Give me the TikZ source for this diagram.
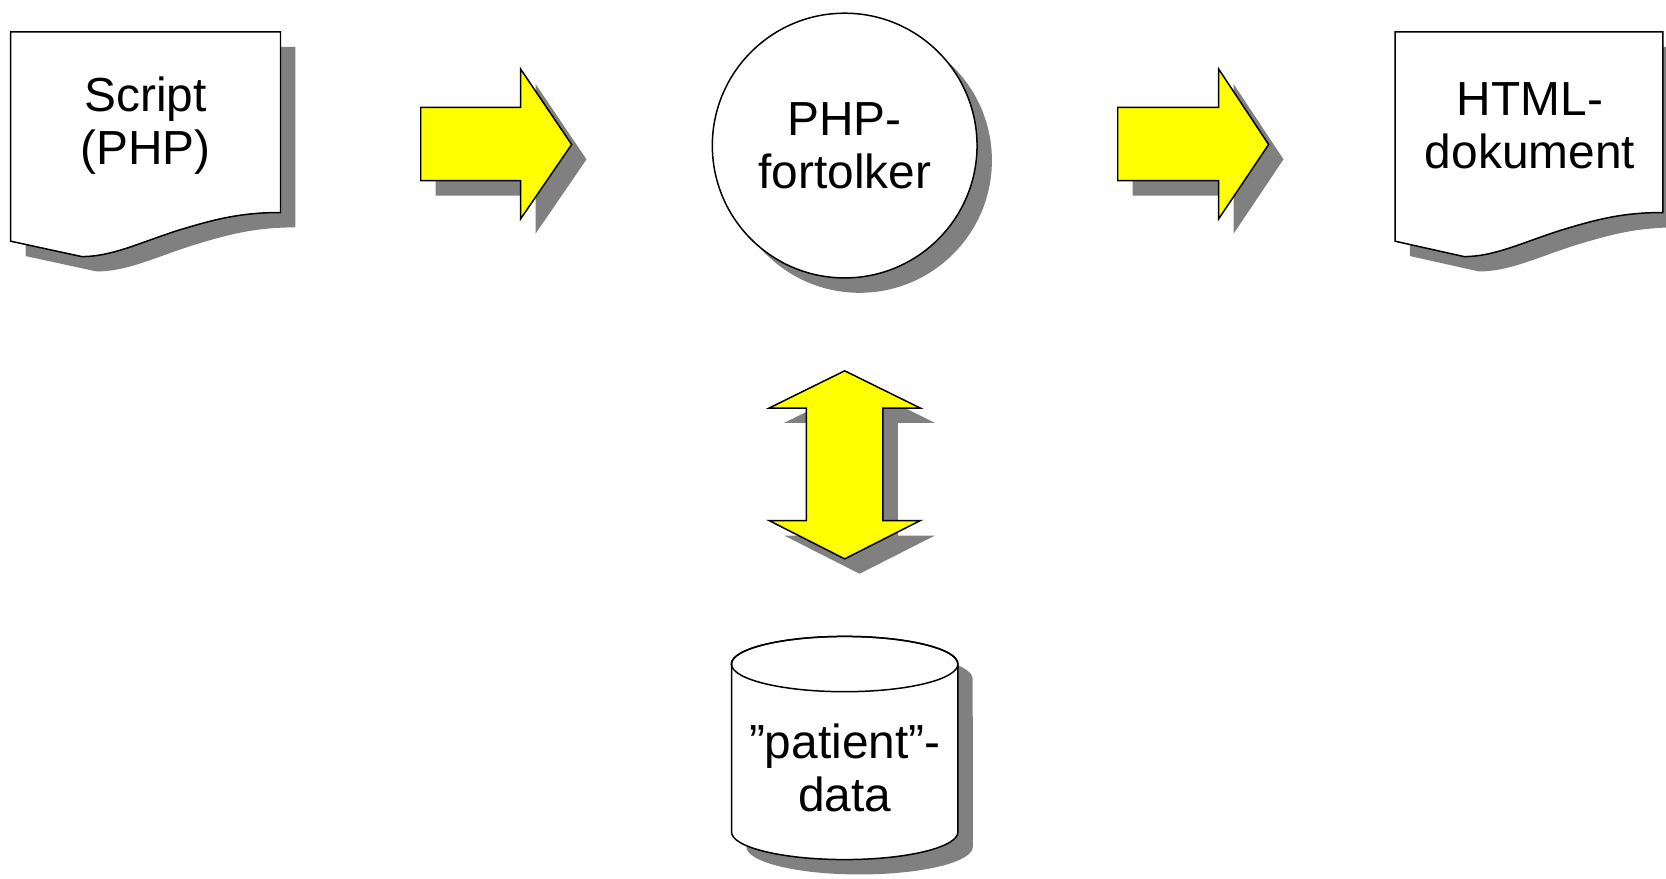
\documentclass[tikz,border=0pt]{standalone}
\usepackage{fontspec}
\setmainfont{Liberation Sans}
\definecolor{shadowgray}{HTML}{808080}
\definecolor{arrowyellow}{HTML}{FFFF00}
\begin{document}
\begin{tikzpicture}[x=0.01cm,y=-0.01cm,line width=0.4pt,
  shadowfill/.style={fill=shadowgray,draw=none},
  shapeline/.style={draw=black,fill=white},
  blockarrow/.style={draw=black,fill=arrowyellow},
  lbl/.style={align=center,inner sep=0pt,font=\fontsize{12.8}{14.2}\selectfont}]
\useasboundingbox (0,0) rectangle (1568,827);

% Script document
\fill[shadowfill] (24,44) -- (278,44) -- (278,214) .. controls (239,214) and (214,221) .. (181,231) .. controls (144,243) and (119,255.5) .. (91,255.5) -- (24,241) -- cycle;
\path[shapeline] (10,30) -- (264,30) -- (264,200) .. controls (225,200) and (200,207) .. (167,217) .. controls (130,229) and (105,241.5) .. (77,241.5) -- (10,227) -- cycle;
\node[lbl] (script) at (137,118) {Script\\(PHP)};

% Arrow 1
\fill[shadowfill] (410,115) -- (504,115) -- (504,79) -- (552,150) -- (504,220) -- (504,184) -- (410,184) -- cycle;
\path[blockarrow] (396,101) -- (490,101) -- (490,65) -- (538,136) -- (490,206) -- (490,170) -- (396,170) -- cycle;

% PHP interpreter circle
\fill[shadowfill] (809,151) circle[radius=1.245cm];
\path[shapeline] (795,137) circle[radius=1.245cm];
\node[lbl] (php) at (795,137) {PHP-\\fortolker};

% Arrow 2
\fill[shadowfill] (1066,115) -- (1161,115) -- (1161,79) -- (1208,150) -- (1161,220) -- (1161,184) -- (1066,184) -- cycle;
\path[blockarrow] (1052,101) -- (1147,101) -- (1147,65) -- (1194,136) -- (1147,206) -- (1147,170) -- (1052,170) -- cycle;

% HTML document
\fill[shadowfill] (1327,44) -- (1579,44) -- (1579,214) .. controls (1540,214) and (1515,221) .. (1482,231) .. controls (1445,243) and (1420,255.5) .. (1392,255.5) -- (1327,241) -- cycle;
\path[shapeline] (1313,30) -- (1565,30) -- (1565,200) .. controls (1526,200) and (1501,207) .. (1468,217) .. controls (1431,229) and (1406,241.5) .. (1378,241.5) -- (1313,227) -- cycle;
\node[lbl] (html) at (1440,118) {HTML-\\dokument};

% Double arrow
\fill[shadowfill] (809,363) -- (880,398) -- (845,398) -- (845,504) -- (880,504) -- (809,540) -- (738,504) -- (773,504) -- (773,398) -- (738,398) -- cycle;
\path[blockarrow] (795,349) -- (866,384) -- (831,384) -- (831,490) -- (866,490) -- (795,526) -- (724,490) -- (759,490) -- (759,384) -- (724,384) -- cycle;

% Database cylinder
\fill[shadowfill] (702.5,639) -- (702.5,797) arc[start angle=180,end angle=360,x radius=1.065cm,y radius=0.26cm] -- (915.5,639) arc[start angle=0,end angle=180,x radius=1.065cm,y radius=0.26cm] -- cycle;
\path[shapeline] (688.5,625) -- (688.5,783) arc[start angle=180,end angle=360,x radius=1.065cm,y radius=0.26cm] -- (901.5,625) arc[start angle=0,end angle=180,x radius=1.065cm,y radius=0.26cm] -- cycle;
\draw (795,625) ellipse[x radius=1.065cm,y radius=0.26cm];
\node[lbl] (data) at (795,723) {”patient”-\\data};
\end{tikzpicture}
\end{document}
